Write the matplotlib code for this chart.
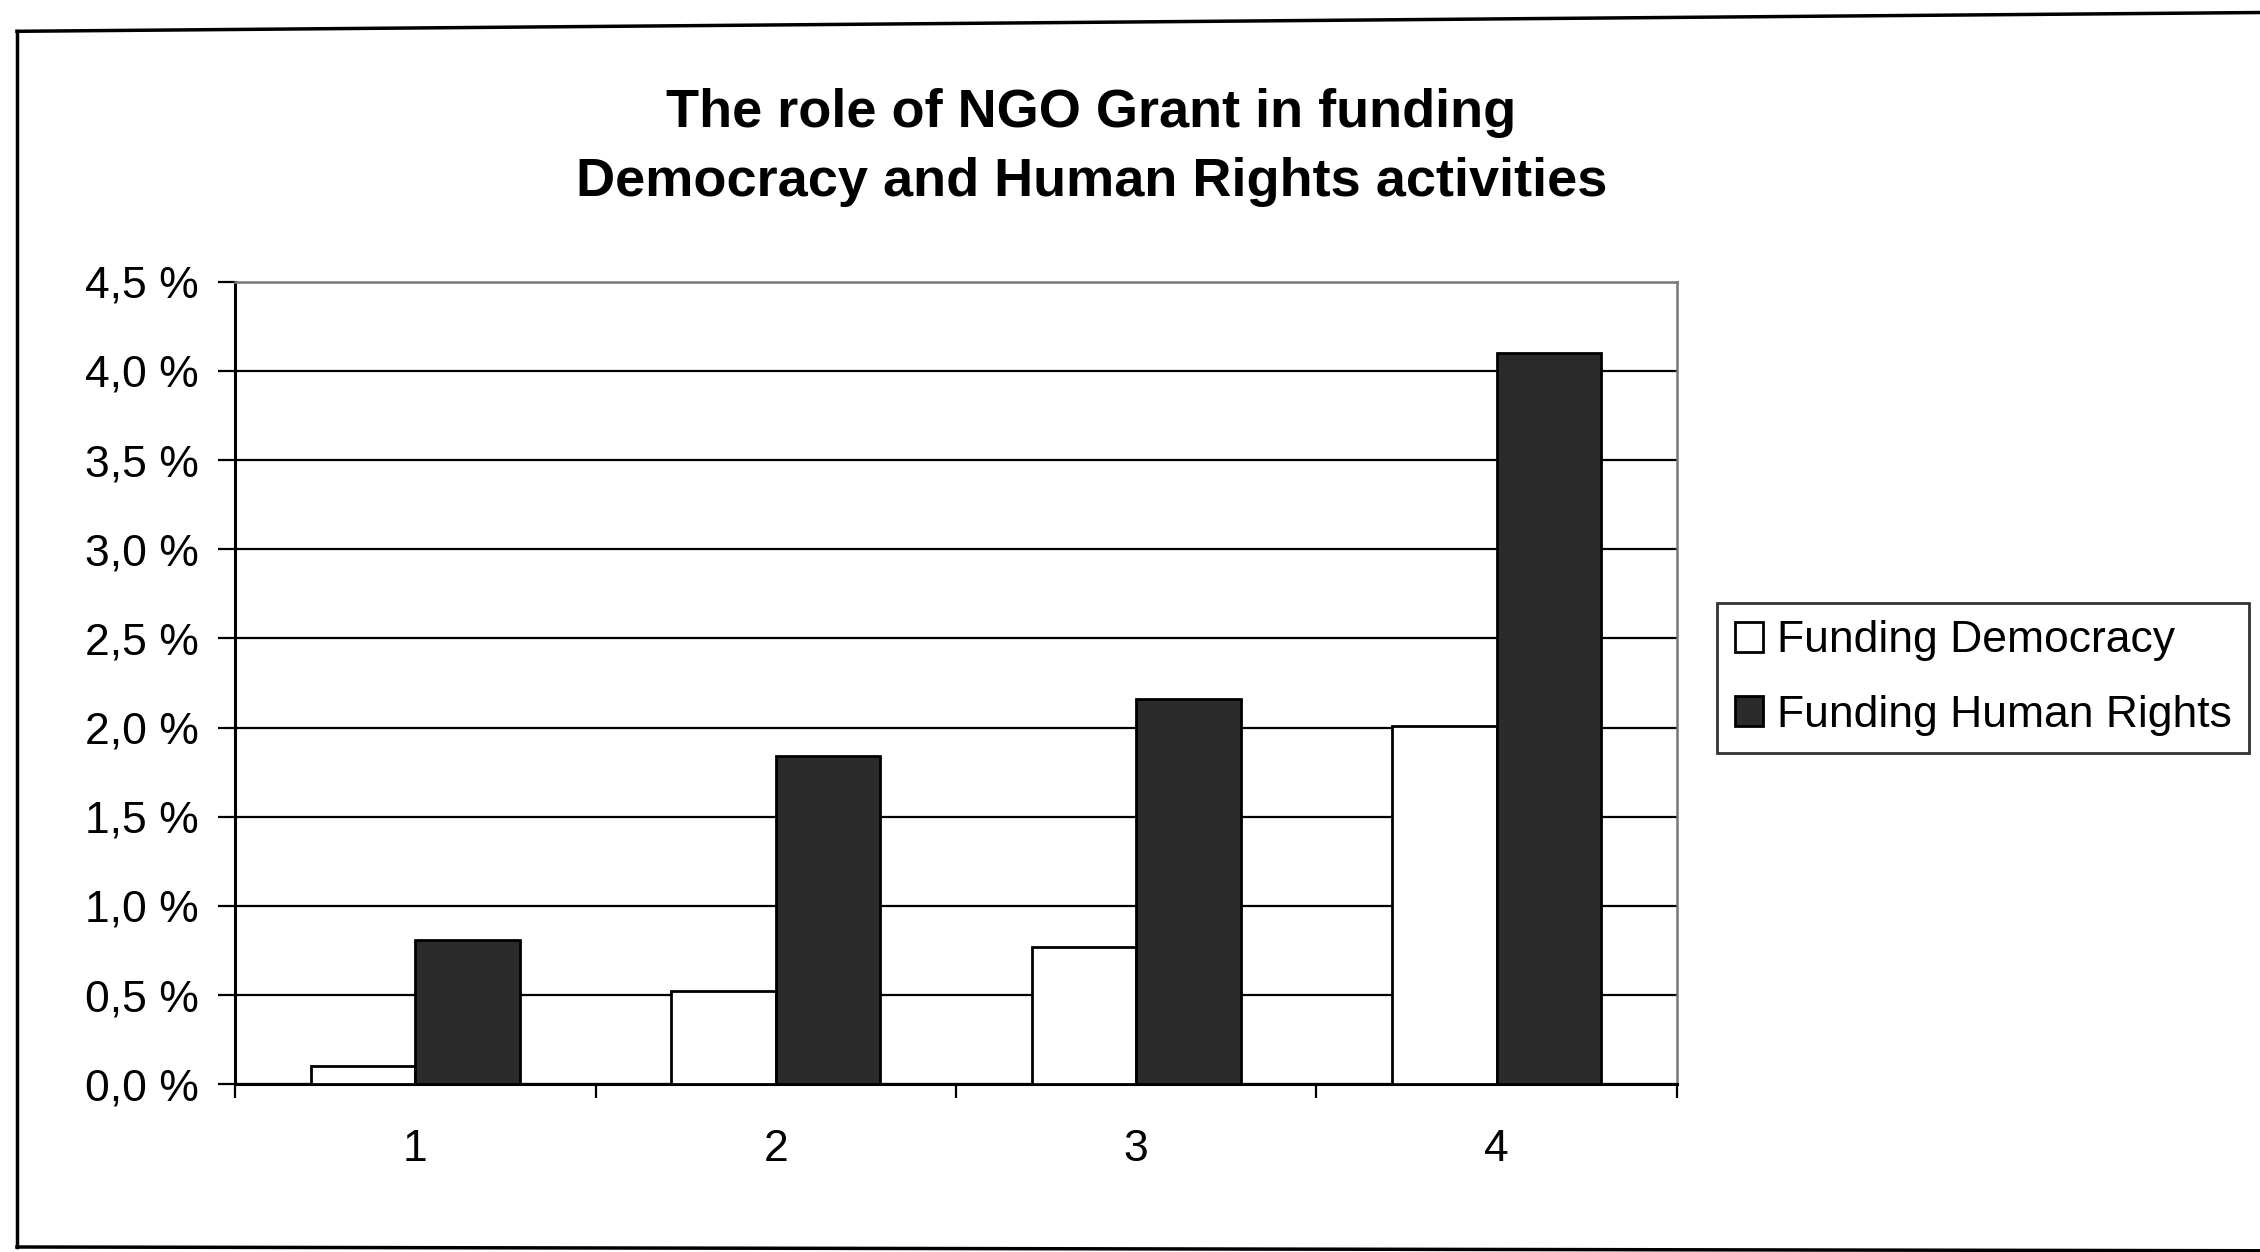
import matplotlib
matplotlib.use("Agg")
import matplotlib.pyplot as plt
from matplotlib.lines import Line2D
import numpy as np

plt.rcParams['font.family'] = ['Liberation Sans', 'DejaVu Sans']

categories = ["1", "2", "3", "4"]
democracy = [0.10, 0.52, 0.77, 2.01]
human_rights = [0.81, 1.84, 2.16, 4.10]
y_ticks = [0.0, 0.5, 1.0, 1.5, 2.0, 2.5, 3.0, 3.5, 4.0, 4.5]
y_tick_labels = ["0,0 %", "0,5 %", "1,0 %", "1,5 %", "2,0 %", "2,5 %",
                 "3,0 %", "3,5 %", "4,0 %", "4,5 %"]
series_names = ["Funding Democracy", "Funding Human Rights"]
title = "The role of NGO Grant in funding\nDemocracy and Human Rights activities"

fig = plt.figure(figsize=(22.6, 12.52), dpi=100)
ax = fig.add_axes([0.104, 0.134, 0.638, 0.641])

x = np.arange(len(categories))
w = 0.29
ax.bar(x - w / 2, democracy, w, color="white", edgecolor="black", linewidth=2,
       label=series_names[0], zorder=3)
ax.bar(x + w / 2, human_rights, w, color="#2b2b2b", edgecolor="black", linewidth=2,
       label=series_names[1], zorder=3)

ax.set_xlim(-0.5, len(categories) - 0.5)
ax.set_ylim(0, 4.5)
ax.set_yticks(y_ticks)
ax.set_yticklabels(y_tick_labels, fontsize=32)
ax.yaxis.grid(True, color="black", linewidth=1.6, zorder=0)
ax.set_axisbelow(True)

# category labels at centers, tick marks at category boundaries
ax.set_xticks(np.arange(len(categories) + 1) - 0.5)
ax.set_xticklabels([])
ax.set_xticks(x, minor=True)
ax.set_xticklabels(categories, minor=True, fontsize=32)
ax.tick_params(axis="x", which="major", direction="out", length=10, width=1.6)
ax.tick_params(axis="x", which="minor", length=0, pad=32)
ax.tick_params(axis="y", direction="out", length=12, width=1.6, pad=14)

for s in ["left", "bottom"]:
    ax.spines[s].set_color("black")
    ax.spines[s].set_linewidth(2.2)
for s in ["top", "right"]:
    ax.spines[s].set_color("#777777")
    ax.spines[s].set_linewidth(1.8)

fig.text(0.483, 0.882, title, ha="center", va="center", fontsize=39,
         fontweight="bold", linespacing=1.5)

leg = fig.legend(loc="center", bbox_to_anchor=(0.8775, 0.4585), fontsize=32,
                 frameon=True, fancybox=False, edgecolor="black",
                 handlelength=0.65, handleheight=0.65, handletextpad=0.3,
                 labelspacing=0.75, borderpad=0.4, borderaxespad=0)
leg.get_frame().set_linewidth(2)

# outer chart border
fig.add_artist(Line2D([0.0075, 0.0075], [0.004, 0.975], transform=fig.transFigure,
                      color="black", linewidth=2.5))
fig.add_artist(Line2D([0.0075, 1.0], [0.975, 0.99], transform=fig.transFigure,
                      color="black", linewidth=2.5))
fig.add_artist(Line2D([0.0075, 1.0], [0.004, 0.001], transform=fig.transFigure,
                      color="black", linewidth=2.5))

fig.savefig("out.png", dpi=100)
